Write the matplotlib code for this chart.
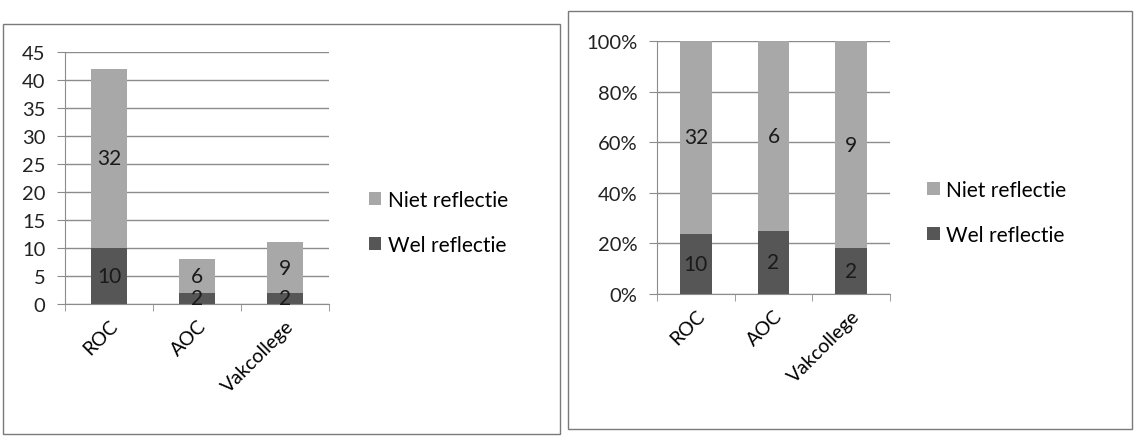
import numpy as np
import matplotlib.pyplot as plt
from matplotlib.patches import Rectangle
from matplotlib.ticker import FuncFormatter

plt.rcParams['font.family'] = ['Lato', 'DejaVu Sans']

# data
categories = ["ROC", "AOC", "Vakcollege"]
wel = [10, 2, 2]
niet = [32, 6, 9]
series_names = ["Niet reflectie", "Wel reflectie"]

dark = "#565656"
light = "#a8a8a8"
gridc = "#8c8c8c"

fig = plt.figure(figsize=(11.35, 4.39), dpi=100)

# panel frames like the pasted Excel charts
fig.patches.append(Rectangle((0.003, 0.009), 0.490, 0.934, transform=fig.transFigure,
                             fill=False, edgecolor="#7a7a7a", lw=1.0))
fig.patches.append(Rectangle((0.500, 0.020), 0.497, 0.953, transform=fig.transFigure,
                             fill=False, edgecolor="#7a7a7a", lw=1.0))

x = np.arange(len(categories))
wel = np.array(wel)
niet = np.array(niet)
tot = wel + niet


def style_axis(ax):
    ax.set_xlim(-0.5, len(categories) - 0.5)
    ax.set_xticks(x)
    ax.set_xticklabels(categories, rotation=45, ha="right", va="top",
                       rotation_mode="anchor", fontsize=14)
    ax.tick_params(axis="x", which="major", length=0, pad=9)
    ax.set_xticks(np.arange(-0.5, len(categories)), minor=True)
    ax.tick_params(axis="x", which="minor", length=5, color=gridc)
    ax.tick_params(axis="y", length=6, color=gridc, labelsize=14.5, pad=8)
    ax.yaxis.grid(True, color=gridc, lw=1.0)
    ax.set_axisbelow(True)
    for s in ["top", "right"]:
        ax.spines[s].set_visible(False)
    for s in ["left", "bottom"]:
        ax.spines[s].set_color(gridc)
    for lab in ax.get_yticklabels():
        lab.set_color("#222222")


# left: absolute numbers
ax1 = fig.add_axes([0.0573, 0.3052, 0.2326, 0.574])
b1 = ax1.bar(x, wel, width=0.4, color=dark, label=series_names[1])
b2 = ax1.bar(x, niet, width=0.4, bottom=wel, color=light, label=series_names[0])
ax1.set_ylim(0, 45)
ax1.set_yticks(range(0, 46, 5))
style_axis(ax1)
for i in range(len(categories)):
    ax1.text(x[i], wel[i] / 2, str(wel[i]), ha="center", va="center", fontsize=15, color="#1a1a1a")
    ax1.text(x[i], wel[i] + niet[i] / 2, str(niet[i]), ha="center", va="center", fontsize=15, color="#1a1a1a")
ax1.legend([b2, b1], series_names, loc="center left", bbox_to_anchor=(1.08, 0.325),
           frameon=False, fontsize=15, handlelength=0.6, handleheight=0.6,
           handletextpad=0.3, labelspacing=1.2)

# right: 100% stacked
ax2 = fig.add_axes([0.5789, 0.328, 0.2053, 0.576])
c1 = ax2.bar(x, wel / tot, width=0.41, color=dark)
c2 = ax2.bar(x, niet / tot, width=0.41, bottom=wel / tot, color=light)
ax2.set_ylim(0, 1)
ax2.set_yticks(np.linspace(0, 1, 6))
ax2.yaxis.set_major_formatter(FuncFormatter(lambda v, p: f"{v*100:.0f}%"))
style_axis(ax2)
for i in range(len(categories)):
    ax2.text(x[i], wel[i] / tot[i] / 2, str(wel[i]), ha="center", va="center", fontsize=15, color="#1a1a1a")
    ax2.text(x[i], wel[i] / tot[i] + niet[i] / tot[i] / 2, str(niet[i]), ha="center", va="center",
             fontsize=15, color="#1a1a1a")
ax2.legend([c2, c1], series_names, loc="center left", bbox_to_anchor=(1.08, 0.324),
           frameon=False, fontsize=15, handlelength=0.6, handleheight=0.6,
           handletextpad=0.3, labelspacing=1.2)

fig.savefig("out.png", dpi=100)
